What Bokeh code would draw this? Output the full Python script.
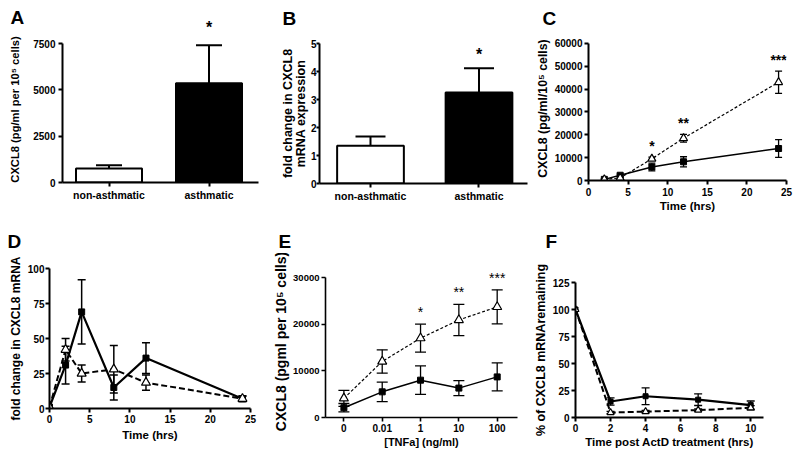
from bokeh.plotting import figure
from bokeh.models import ColumnDataSource, Whisker, TeeHead, Label, Range1d, FixedTicker
from bokeh.layouts import row, column
from bokeh.embed import file_html
from bokeh.resources import INLINE

FONT = "Liberation Sans"

# ---------------- data ----------------
a_groups = ["non-asthmatic", "asthmatic"]
a_mean = [760, 5350]
a_upper = [930, 7400]
a_stars = ["", "*"]
a_yticks = [0, 2500, 5000, 7500]

b_groups = ["non-asthmatic", "asthmatic"]
b_mean = [1.35, 3.25]
b_upper = [1.68, 4.12]
b_stars = ["", "*"]
b_yticks = [0, 1, 2, 3, 4, 5]

c_time = [2, 4, 8, 12, 24]
c_solid = [500, 2300, 5900, 8200, 14000]
c_solid_err = [300, 500, 1700, 2200, 3900]
c_dash = [500, 1100, 9500, 18500, 43000]
c_dash_err = [200, 400, 700, 1700, 4900]
c_stars = ["", "", "*", "**", "***"]
c_xticks = [0, 5, 10, 15, 20, 25]
c_yticks = [0, 10000, 20000, 30000, 40000, 50000, 60000]

d_time = [0, 2, 4, 8, 12, 24]
d_solid = [1, 31, 69, 15, 36, 7]
d_solid_err = [0, 13.5, 23, 9, 11, 2]
d_dash = [1, 42, 25, 28, 18.5, 7]
d_dash_err = [0, 8, 6, 17, 5.5, 2]
d_xticks = [0, 5, 10, 15, 20, 25]
d_yticks = [0, 25, 50, 75, 100]

e_dose = ["0", "0.01", "1", "10", "100"]
e_solid = [2100, 5500, 8000, 6300, 8700]
e_solid_err = [900, 2100, 3050, 1600, 3000]
e_dash = [4100, 12000, 17000, 20900, 23700]
e_dash_err = [1700, 2500, 3000, 3350, 3650]
e_stars = ["", "", "*", "**", "***"]
e_yticks = [0, 10000, 20000, 30000]

f_time = [0, 2, 4, 7, 10]
f_solid = [100, 14.8, 19.7, 16.5, 11.5]
f_solid_err = [0, 3.4, 7.7, 5.4, 3.8]
f_dash = [100, 4.6, 5.5, 6.8, 9]
f_dash_err = [0, 1, 1, 1.2, 2]
f_xticks = [0, 2, 4, 6, 8, 10]
f_yticks = [0, 25, 50, 75, 100, 125]

panel_letters = ["A", "B", "C", "D", "E", "F"]

# ---------------- layout geometry (pixels) ----------------
W = 800
STRIP1_H, ROW1_H, STRIP2_H, ROW2_H = 36, 178, 39, 200
A_XR = (-0.465, 1.495)
A_LEFT, A_RIGHT = 62, 12
A_W = 270
ROW1_FRAME, ROW1_AXIS = 146, 139   # frame height vs. drawn axis length (A, C)


# ---------------- helpers ----------------
def panel(w, h, xr, yr, ml, mr, mt, mb, lw=2):
    p = figure(width=w, height=h, x_range=Range1d(*xr), y_range=Range1d(*yr),
               output_backend="svg", toolbar_location=None, title=None,
               min_border_left=ml, min_border_right=mr,
               min_border_top=mt, min_border_bottom=mb)
    p.frame_align = False
    p.grid.visible = False
    p.outline_line_color = None
    p.background_fill_color = "white"
    p.border_fill_color = "white"
    for ax in p.axis:
        ax.axis_line_width = lw
        ax.axis_line_color = "black"
        ax.major_tick_line_width = lw
        ax.major_tick_line_color = "black"
        ax.major_tick_out = 4
        ax.major_tick_in = 0
        ax.minor_tick_out = 0
        ax.minor_tick_in = 0
        ax.major_label_text_font = FONT
        ax.major_label_text_font_style = "bold"
        ax.major_label_text_font_size = "10px"
        ax.major_label_text_color = "black"
        ax.axis_label_text_font = FONT
        ax.axis_label_text_font_style = "bold"
        ax.axis_label_text_font_size = "11.5px"
        ax.axis_label_text_color = "black"
        ax.major_label_standoff = 2
        ax.axis_label_standoff = 2
    return p


def strip(h, xr):
    s = figure(width=W, height=h, x_range=Range1d(*xr), y_range=Range1d(h, 0),
               x_axis_type=None, y_axis_type=None, min_border=0,
               output_backend="svg", toolbar_location=None, title=None)
    s.frame_align = False
    s.outline_line_color = None
    s.background_fill_color = "white"
    s.border_fill_color = "white"
    return s


def add_letters(s, letters, xs, ys):
    for t, x, y in zip(letters, xs, ys):
        s.add_layout(Label(x=x, y=y, text=t, text_font=FONT,
                           text_font_style="bold", text_font_size="19px",
                           text_align="left", text_baseline="middle",
                           text_color="black"))


def errbars(p, xs, means, errs, size, lw):
    keep = [i for i, e in enumerate(errs) if e > 0]
    src = ColumnDataSource(dict(x=[xs[i] for i in keep],
                                lo=[means[i] - errs[i] for i in keep],
                                hi=[means[i] + errs[i] for i in keep]))
    p.add_layout(Whisker(source=src, base="x", lower="lo", upper="hi",
                         line_width=lw, line_color="black",
                         upper_head=TeeHead(size=size, line_width=lw, line_color="black"),
                         lower_head=TeeHead(size=size, line_width=lw, line_color="black")))


def stars(p, xs, tops, texts, size, dy, style="bold"):
    for x, t, s in zip(xs, tops, texts):
        if s:
            p.add_layout(Label(x=x, y=t, y_offset=dy, text=s, text_align="center",
                               text_baseline="middle", text_font=FONT,
                               text_font_size=size, text_font_style=style,
                               text_color="black"))


def bar_panel(p, groups, mean, upper, bw, cap):
    xs = list(range(len(groups)))
    p.vbar(x=xs, top=mean, bottom=0, width=bw, fill_color=["white", "black"],
           line_color="black", line_width=2)
    src = ColumnDataSource(dict(x=xs, lo=mean, hi=upper))
    p.add_layout(Whisker(source=src, base="x", lower="lo", upper="hi",
                         line_width=2, line_color="black", lower_head=None,
                         upper_head=TeeHead(size=cap, line_width=2, line_color="black")))
    p.xaxis.ticker = FixedTicker(ticks=xs)
    p.xaxis.major_label_overrides = {i: g for i, g in enumerate(groups)}
    p.xaxis.major_label_text_font_size = "10.5px"
    return xs


def series(p, xs, solid, solid_err, dash, dash_err, lw_solid, lw_dash, dash_pat,
           sq, tri, cap, elw):
    errbars(p, xs, solid, solid_err, cap, elw)
    errbars(p, xs, dash, dash_err, cap, elw)
    p.line(xs, solid, line_color="black", line_width=lw_solid)
    p.line(xs, dash, line_color="black", line_width=lw_dash, line_dash=dash_pat)
    p.scatter(xs, solid, marker="square", size=sq, fill_color="black", line_color="black")
    p.scatter(xs, dash, marker="triangle", size=tri, fill_color="white",
              line_color="black", line_width=1.2)


# ---------------- top strip (letters A-C and the star of A) ----------------
# uses the same horizontal data scale as panel A so the star sits over its bar
ppu = (A_W - A_LEFT - A_RIGHT) / (A_XR[1] - A_XR[0])
s1_x0 = A_XR[0] - A_LEFT / ppu
strip1 = strip(STRIP1_H, (s1_x0, s1_x0 + W / ppu))
add_letters(strip1, panel_letters[:3], [s1_x0 + px / ppu for px in (10, 282, 542)],
            [17.4, 18.4, 18.4])
a_x = list(range(len(a_groups)))
for x, s in zip(a_x, a_stars):
    if s:
        strip1.add_layout(Label(x=x, y=26.5, text=s, text_align="center",
                                text_baseline="middle", text_font=FONT,
                                text_font_size="16px", text_font_style="bold",
                                text_color="black"))

# ---------------- panel A ----------------
pA = panel(A_W, ROW1_H, A_XR, (0, a_yticks[-1] * ROW1_FRAME / ROW1_AXIS),
           A_LEFT, A_RIGHT, 0, 32)
bar_panel(pA, a_groups, a_mean, a_upper, 0.66, 26)
pA.yaxis.ticker = FixedTicker(ticks=a_yticks)
pA.yaxis.bounds = (0, a_yticks[-1])
pA.yaxis.axis_label = "CXCL8 (pg/ml per 10\u2075 cells)"
pA.yaxis.axis_label_text_font_size = "11.2px"
pA.yaxis.axis_label_standoff = 9
pA.yaxis.major_label_standoff = 3

# ---------------- panel B ----------------
pB = panel(260, ROW1_H, (-0.47, 1.447), (0, 5), 49, 3, 7, 31)
b_x = bar_panel(pB, b_groups, b_mean, b_upper, 0.615, 30)
stars(pB, b_x, b_upper, b_stars, "16px", 14)
pB.yaxis.ticker = FixedTicker(ticks=b_yticks)
pB.yaxis.axis_label = "fold change in CXCL8\nmRNA expression"
pB.yaxis.axis_label_text_font_size = "12.5px"
pB.yaxis.axis_label_text_line_height = 0.9
pB.yaxis.axis_label_standoff = 0
pB.yaxis.major_label_standoff = 0
pB.yaxis.major_tick_out = 3

# ---------------- panel C ----------------
pC = panel(270, ROW1_H, (0, 25), (0, c_yticks[-1] * ROW1_FRAME / ROW1_AXIS),
           58, 14, 0, 32)
series(pC, c_time, c_solid, c_solid_err, c_dash, c_dash_err, 1.5, 1.2, "3 2",
       6, 8, 7, 1.3)
pC.xaxis.ticker = FixedTicker(ticks=c_xticks)
pC.yaxis.ticker = FixedTicker(ticks=c_yticks)
pC.yaxis.bounds = (0, c_yticks[-1])
pC.xaxis.axis_label = "Time (hrs)"
pC.xaxis.major_label_standoff = 3
pC.xaxis.axis_label_standoff = 1
pC.yaxis.axis_label = "CXCL8 (pg/ml/10\u2075 cells)"
pC.yaxis.axis_label_text_font_size = "12.3px"
pC.yaxis.axis_label_standoff = 2
stars(pC, c_time, [m + e for m, e in zip(c_dash, c_dash_err)], c_stars, "14px", 11.5)

# ---------------- bottom strip (letters D-F) ----------------
strip2 = strip(STRIP2_H, (0, W))
add_letters(strip2, panel_letters[3:], [7, 278, 545], [27.4, 27.4, 27.4])

# ---------------- panel D ----------------
pD = panel(270, ROW2_H, (0, 25), (0, 100), 49, 20, 15, 45)
series(pD, d_time, d_solid, d_solid_err, d_dash, d_dash_err, 2.2, 2, "6 3",
       6, 9, 8, 1.5)
pD.xaxis.ticker = FixedTicker(ticks=d_xticks)
pD.yaxis.ticker = FixedTicker(ticks=d_yticks)
pD.xaxis.axis_label = "Time (hrs)"
pD.xaxis.axis_label_standoff = 3
pD.yaxis.axis_label = "fold change in CXCL8 mRNA"
pD.yaxis.axis_label_text_font_size = "12px"
pD.yaxis.major_label_standoff = 1
pD.yaxis.axis_label_standoff = 2

# ---------------- panel E ----------------
e_x = list(range(len(e_dose)))
# frame 152 px tall, axis 140 px (room above for the stars)
pE = panel(260, ROW2_H, (-0.48, 4.53), (0, e_yticks[-1] * 152 / 140), 49, 13, 12, 36, lw=1.6)
series(pE, e_x, e_solid, e_solid_err, e_dash, e_dash_err, 1.5, 1.2, "3 2",
       6, 9, 11, 1.3)
pE.xaxis.ticker = FixedTicker(ticks=e_x)
pE.xaxis.major_label_overrides = {i: d for i, d in enumerate(e_dose)}
pE.xaxis.axis_label = "[TNFa] (ng/ml)"
pE.xaxis.axis_label_text_font_size = "11px"
pE.xaxis.axis_label_standoff = 1
pE.yaxis.ticker = FixedTicker(ticks=e_yticks)
pE.yaxis.bounds = (0, e_yticks[-1])
pE.yaxis.major_label_text_font_size = "9.5px"
pE.yaxis.axis_label = "CXCL8 (pgml per 10\u2075 cells)"
pE.yaxis.axis_label_text_font_size = "14px"
pE.yaxis.axis_label_standoff = 1
stars(pE, e_x, [m + e for m, e in zip(e_dash, e_dash_err)], e_stars, "14px", 12.3, "normal")

# ---------------- panel F ----------------
pF = panel(270, ROW2_H, (0, 10.73), (0, 125), 42, 37, 29, 36)
series(pF, f_time, f_solid, f_solid_err, f_dash, f_dash_err, 2.2, 2, "6 3",
       5, 7, 8, 1.3)
pF.xaxis.ticker = FixedTicker(ticks=f_xticks)
pF.yaxis.ticker = FixedTicker(ticks=f_yticks)
pF.xaxis.axis_label = "Time post ActD treatment (hrs)"
pF.xaxis.axis_label_standoff = 1
pF.yaxis.axis_label = "% of CXCL8 mRNAremaining"
pF.yaxis.axis_label_text_font_size = "12.5px"
pF.yaxis.axis_label_standoff = 2

layout = column(strip1, row(pA, pB, pC), strip2, row(pD, pE, pF))
open("out.html", "w").write(file_html(layout, INLINE))
